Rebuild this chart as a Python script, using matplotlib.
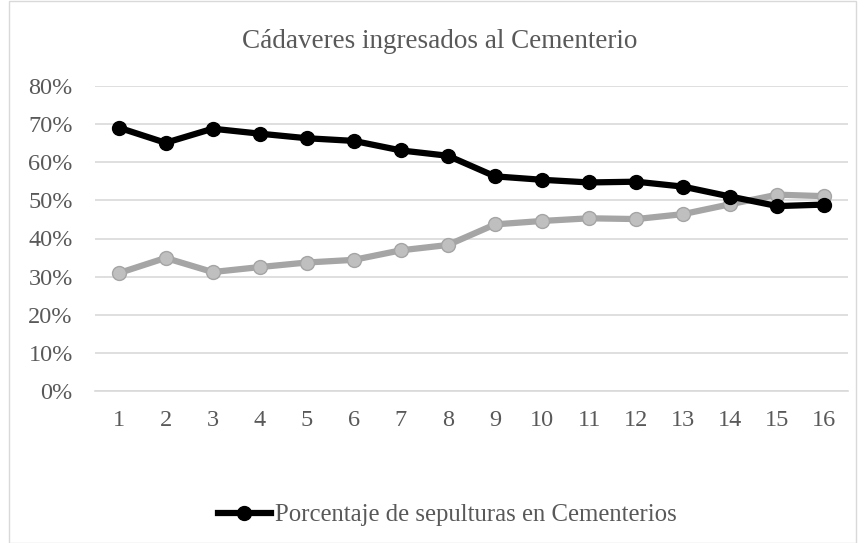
import matplotlib
matplotlib.use("Agg")
import matplotlib.pyplot as plt
from matplotlib.patches import Rectangle

periods = list(range(1, 17))
cementerios = [69.1, 65.1, 68.8, 67.5, 66.3, 65.6, 63.1, 61.7, 56.3, 55.4, 54.7, 54.9, 53.6, 51.0, 48.5, 48.9]
otros = [30.9, 34.9, 31.2, 32.5, 33.7, 34.4, 36.9, 38.3, 43.7, 44.6, 45.3, 45.1, 46.4, 49.0, 51.5, 51.1]
yticks = [0, 10, 20, 30, 40, 50, 60, 70, 80]
title = "Cádaveres ingresados al Cementerio"
legend_label = "Porcentaje de sepulturas en Cementerios"

plt.rcParams['font.family'] = ['Liberation Serif', 'DejaVu Serif']
txt = '#595959'

fig = plt.figure(figsize=(8.65, 5.43), dpi=100)
ax = fig.add_axes([95/865, 1 - 391/543, (848 - 95)/865, (391 - 86)/543])

ax.plot(periods, otros, color='#a5a5a5', lw=4.5, marker='o', ms=10,
        markerfacecolor='#bfbfbf', markeredgecolor='#a5a5a5', markeredgewidth=1, zorder=3)
ax.plot(periods, cementerios, color='black', lw=4.5, marker='o', ms=10,
        markerfacecolor='black', markeredgecolor='black', zorder=4, label=legend_label)

ax.set_xlim(0.5, 16.5)
ax.set_ylim(0, 80)
ax.set_yticks(yticks)
ax.set_yticklabels([f"{v}%" for v in yticks])
ax.set_xticks(periods)
ax.grid(axis='y', color='#d9d9d9', lw=1.2)
ax.set_axisbelow(True)
for s in ['top', 'right', 'left']:
    ax.spines[s].set_visible(False)
ax.spines['bottom'].set_color('#d9d9d9')
ax.spines['bottom'].set_linewidth(1.2)
ax.tick_params(axis='both', length=0, labelsize=17.5, colors=txt)
ax.tick_params(axis='x', pad=14)
ax.tick_params(axis='y', pad=16)

fig.text(440/865, 1 - 41/543, title, ha='center', va='center', fontsize=19.5, color=txt)

leg = fig.legend(loc='center', bbox_to_anchor=(447/865, 1 - 515/543), frameon=False,
                 fontsize=17.8, handlelength=2.15, handletextpad=0.16, labelcolor=txt)

fig.add_artist(Rectangle((9/865, 0), (856 - 9)/865, 542/543, transform=fig.transFigure,
                         fill=False, edgecolor='#d9d9d9', lw=1))

fig.savefig('out.png', dpi=100)
